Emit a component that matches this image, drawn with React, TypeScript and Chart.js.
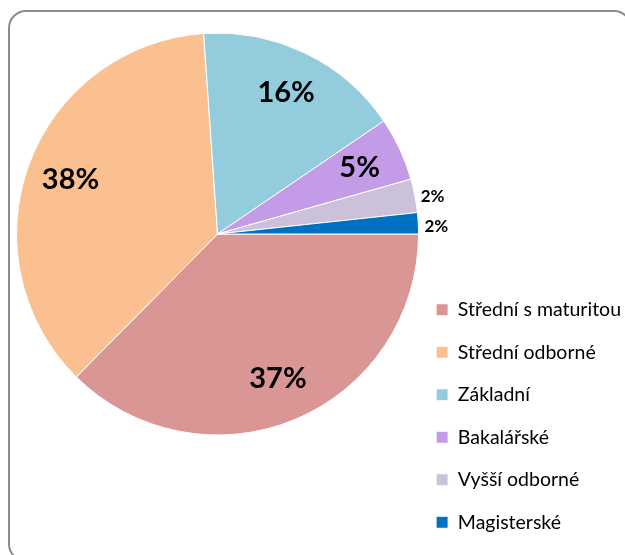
import React, { useEffect, useRef } from "react";
import { Chart, registerables } from "chart.js";

Chart.register(...registerables);

const categories = [
  "Střední s maturitou",
  "Střední odborné",
  "Základní",
  "Bakalářské",
  "Vyšší odborné",
  "Magisterské",
];
const shares = [37.4, 36.5, 16.6, 5.1, 2.7, 1.7];
const shareLabels = ["37%", "38%", "16%", "5%", "2%", "2%"];
const colors = ["#D99694", "#FAC090", "#93CDDD", "#C39BE6", "#CCC1DA", "#0070C0"];

const FONT = "Lato, 'DejaVu Sans', sans-serif";

const sliceLabels = {
  id: "sliceLabels",
  afterDatasetsDraw(chart: any) {
    const ctx = chart.ctx;
    const meta = chart.getDatasetMeta(0);
    ctx.save();
    ctx.fillStyle = "#000";
    ctx.textAlign = "center";
    ctx.textBaseline = "middle";
    meta.data.forEach((arc: any, i: number) => {
      const { x, y, startAngle, endAngle, outerRadius } = arc.getProps(
        ["x", "y", "startAngle", "endAngle", "outerRadius"],
        true
      );
      const mid = (startAngle + endAngle) / 2;
      const small = shares[i] < 3;
      const k = small ? 1.09 : 0.78;
      ctx.font = `bold ${small ? 17 : 29}px ${FONT}`;
      ctx.fillText(
        shareLabels[i],
        x + Math.cos(mid) * outerRadius * k,
        y + Math.sin(mid) * outerRadius * k + (small ? 4 : 0)
      );
    });
    ctx.restore();
  },
};

export default function App() {
  const ref = useRef<HTMLCanvasElement>(null);
  useEffect(() => {
    const chart = new Chart(ref.current!, {
      type: "pie",
      data: {
        labels: categories,
        datasets: [
          {
            data: shares,
            backgroundColor: colors,
            borderColor: "#ffffff",
            borderWidth: 1,
          },
        ],
      },
      options: {
        responsive: false,
        animation: false,
        rotation: 90,
        radius: 201,
        layout: { padding: { left: 22, right: -6, top: 0, bottom: 0 } },
        plugins: {
          tooltip: { enabled: false },
          legend: {
            position: "right",
            align: "end",
            labels: {
              boxWidth: 12,
              boxHeight: 12,
              padding: 23,
              color: "#000",
              font: { family: FONT, size: 19.5 },
            },
          },
        },
      },
      plugins: [sliceLabels],
    });
    return () => chart.destroy();
  }, []);
  return (
    <div
      style={{
        position: "fixed",
        left: 0,
        top: 0,
        width: 625,
        height: 555,
        overflow: "hidden",
        background: "#fff",
      }}
    >
      <canvas
        ref={ref}
        width={625}
        height={642}
        style={{ position: "absolute", left: 0, top: -87, width: 625, height: 642 }}
      />
      <div
        style={{
          position: "absolute",
          left: 8,
          top: 10,
          width: 624,
          height: 552,
          border: "2px solid #8C8C8C",
          borderRadius: 18,
          boxSizing: "border-box",
          pointerEvents: "none",
        }}
      />
    </div>
  );
}
